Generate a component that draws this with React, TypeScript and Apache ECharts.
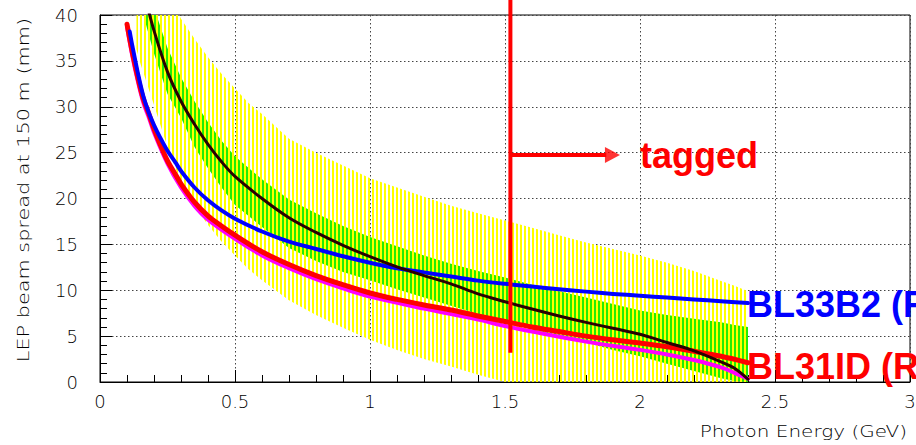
import React, { useEffect, useRef } from 'react';
import * as echarts from 'echarts';

// ---------- data (photon energy in GeV, spread in mm) ----------
const E_YEL = [0.135, 0.15, 0.17, 0.2, 0.25, 0.3, 0.35, 0.4, 0.45, 0.5, 0.55, 0.6, 0.7, 0.8, 0.9, 1.0, 1.1, 1.2, 1.3, 1.4, 1.5, 1.6, 1.7, 1.8, 1.9, 2.0, 2.1, 2.2, 2.3, 2.35, 2.4];
const YEL_HI = [56, 53, 50, 46.5, 42.5, 39.6, 37.4, 35.4, 33.6, 32.0, 30.4, 29.2, 26.5, 25.0, 23.6, 22.2, 21.2, 20.2, 19.2, 18.4, 17.6, 16.8, 16.0, 15.2, 14.5, 13.8, 13.0, 12.1, 11.0, 10.5, 9.9];
const YEL_LO = [36.3, 34.7, 32.9, 30.2, 25.6, 21.7, 19.2, 17.1, 15.3, 13.8, 12.3, 11.1, 8.9, 7.3, 5.9, 4.6, 3.5, 2.5, 1.7, 0.8, 0, 0, 0, 0, 0, 0, 0, 0, 0, 0, 0];

const E_BLK = [0.17, 0.2, 0.25, 0.3, 0.35, 0.4, 0.45, 0.5, 0.6, 0.7, 0.8, 0.9, 1.0, 1.1, 1.2, 1.3, 1.4, 1.5, 1.6, 1.7, 1.8, 1.9, 2.0, 2.1, 2.2, 2.3, 2.35, 2.4];
const BLK = [41.6, 38.3, 33.8, 30.6, 28.1, 25.9, 24.0, 22.4, 20.0, 17.9, 16.3, 14.9, 13.66, 12.55, 11.6, 10.7, 9.6, 8.75, 7.95, 7.2, 6.5, 5.85, 5.2, 4.3, 3.4, 2.2, 1.5, 0.3];
const GRN_HI = [44.0, 40.8, 36.4, 33.2, 30.6, 28.3, 26.3, 24.6, 22.1, 19.9, 18.4, 17.0, 15.8, 14.8, 13.8, 12.9, 12.1, 11.4, 10.6, 9.9, 9.2, 8.5, 7.8, 7.3, 6.9, 6.5, 6.2, 6.0];
const GRN_LO = [39.0, 35.8, 31.4, 28.8, 25.6, 23.3, 21.2, 19.3, 16.9, 14.6, 13.2, 12.0, 11.1, 10.1, 9.2, 8.3, 7.4, 6.6, 5.8, 5.0, 4.3, 3.5, 2.8, 2.0, 1.2, 0.4, 0.1, 0.0];

const E_BLU = [0.11, 0.12, 0.14, 0.16, 0.18, 0.2, 0.22, 0.25, 0.28, 0.3, 0.35, 0.4, 0.45, 0.5, 0.6, 0.7, 0.8, 0.9, 1.0, 1.1, 1.2, 1.3, 1.4, 1.5, 1.6, 1.7, 1.8, 1.9, 2.0, 2.1, 2.2, 2.3, 2.4];
const BLU = [38.2, 36.6, 33.7, 31.2, 29.4, 28.0, 26.8, 25.2, 23.9, 23.0, 21.2, 19.8, 18.7, 17.8, 16.4, 15.3, 14.5, 13.7, 13.0, 12.4, 11.95, 11.5, 11.05, 10.7, 10.4, 10.1, 9.85, 9.6, 9.4, 9.2, 9.0, 8.8, 8.6];

const E_RED = [0.1, 0.11, 0.12, 0.14, 0.16, 0.18, 0.2, 0.22, 0.25, 0.28, 0.3, 0.35, 0.4, 0.45, 0.5, 0.6, 0.7, 0.8, 0.9, 1.0, 1.1, 1.2, 1.3, 1.4, 1.5, 1.6, 1.7, 1.8, 1.9, 2.0, 2.1, 2.2, 2.3, 2.4];
const RED = [39.0, 37.4, 35.9, 33.2, 30.9, 29.3, 27.6, 26.1, 24.1, 22.6, 21.6, 19.6, 18.1, 17.0, 16.0, 14.2, 12.8, 11.6, 10.6, 9.7, 9.0, 8.4, 7.85, 7.2, 6.6, 6.0, 5.5, 5.0, 4.6, 4.25, 3.85, 3.35, 2.8, 2.1];

const E_MAG = [0.1, 0.12, 0.14, 0.16, 0.18, 0.2, 0.25, 0.3, 0.35, 0.4, 0.5, 0.6, 0.7, 0.8, 0.9, 1.0, 1.2, 1.4, 1.5, 1.6, 1.8, 2.0, 2.1, 2.2, 2.3, 2.35, 2.4];
const MAG = [38.7, 35.5, 32.8, 30.5, 28.9, 27.2, 23.8, 21.2, 19.2, 17.7, 15.6, 13.8, 12.4, 11.2, 10.2, 9.3, 8.0, 6.8, 6.1, 5.5, 4.4, 3.5, 3.0, 2.4, 1.6, 1.0, 0.35];

// tagged threshold annotation (data space)
const TAG_E = 1.52;
const TAG_Y = [3.2, 41.7];
const ARROW_Y = 24.74;
const ARROW_SHAFT_END = 1.875;
const ARROW_HEAD_E = 1.898;

const X_MIN = 0, X_MAX = 3, X_STEP = 0.5;
const Y_MIN = 0, Y_MAX = 40, Y_STEP = 5;

const LABEL_TAGGED = 'tagged';
const LABEL_BLUE = 'BL33B2 (R';
const LABEL_RED = 'BL31ID (R';
const X_NAME = 'Photon Energy (GeV)';
const Y_NAME = 'LEP beam spread at 150 m (mm)';

const THIN = '"DejaVu Sans", "Liberation Sans", sans-serif';
const BOLD = 'bold 36px "Liberation Sans", Arial, sans-serif';

function stripe(cols: string[]) {
  const c = document.createElement('canvas');
  c.width = cols.length;
  c.height = 4;
  const ctx = c.getContext('2d')!;
  cols.forEach((col, i) => {
    if (col) {
      ctx.fillStyle = col;
      ctx.fillRect(i, 0, 1, 4);
    }
  });
  return c;
}

function band(name: string, xs: number[], lo: number[], hi: number[], fill: any, z: number) {
  return {
    type: 'custom',
    name,
    z,
    silent: true,
    data: xs.map((x, i) => [x, lo[i], hi[i]]),
    encode: { x: 0, y: [1, 2] },
    renderItem: (params: any, api: any) => {
      if (params.dataIndex !== 0) return null;
      const top = xs.map((x, i) => api.coord([x, hi[i]]));
      const bot = xs.map((x, i) => api.coord([x, lo[i]])).reverse();
      const cs = params.coordSys;
      return {
        type: 'polygon',
        shape: { points: top.concat(bot) },
        style: { fill },
        clipPath: { type: 'rect', shape: { x: cs.x, y: cs.y, width: cs.width, height: cs.height } },
      };
    },
  };
}

function curve(name: string, xs: number[], ys: number[], color: string, width: number, z: number) {
  return {
    type: 'line',
    name,
    z,
    silent: true,
    data: xs.map((x, i) => [x, ys[i]]),
    symbol: 'none',
    showSymbol: false,
    smooth: 0.35,
    clip: true,
    lineStyle: { color, width, cap: 'round', join: 'round' },
    itemStyle: { color },
  };
}

export default function App() {
  const ref = useRef<HTMLDivElement>(null);
  useEffect(() => {
    document.body.style.margin = '0';
    const chart = echarts.init(ref.current!, null, { renderer: 'svg' });
    const yellowPat = { image: stripe(['#ffff00', '#ffff00', '', '']), repeat: 'repeat', imageWidth: 4, imageHeight: 4 };
    const greenPat = { image: stripe(['', '', '#22ee00', '#22ee00']), repeat: 'repeat', imageWidth: 4, imageHeight: 4 };
    const grid = { left: 100, right: 6, top: 15, bottom: 63, show: true, borderColor: '#000', borderWidth: 1, outerBoundsMode: 'none' };
    const axisLabel = { color: '#000', fontFamily: THIN, fontWeight: 200, fontSize: 18 };
    const splitLine = { show: true, lineStyle: { color: '#444', width: 1, type: [1.5, 2.5] } };
    chart.setOption({
      animation: false,
      backgroundColor: '#fff',
      grid,
      xAxis: {
        type: 'value', min: X_MIN, max: X_MAX, interval: X_STEP,
        axisLine: { show: true, onZero: false, lineStyle: { color: '#000', width: 1 } },
        axisTick: { show: true, inside: true, length: 12, lineStyle: { color: '#000' } },
        minorTick: { show: true, splitNumber: 5, length: 7, lineStyle: { color: '#000' } },
        axisLabel: { ...axisLabel, margin: 10 },
        splitLine,
      },
      yAxis: {
        type: 'value', min: Y_MIN, max: Y_MAX, interval: Y_STEP,
        axisLine: { show: true, onZero: false, lineStyle: { color: '#000', width: 1 } },
        axisTick: { show: true, inside: true, length: 12, lineStyle: { color: '#000' } },
        minorTick: { show: true, splitNumber: 5, length: 7, lineStyle: { color: '#000' } },
        axisLabel: { ...axisLabel, margin: 22 },
        splitLine,
      },
      series: [
        band('yellow band', E_YEL, YEL_LO, YEL_HI, yellowPat, 1),
        band('green band', E_BLK, GRN_LO, GRN_HI, greenPat, 2),
        curve('magenta', E_MAG, MAG, '#ff00ff', 4, 3),
        curve('BL31ID', E_RED, RED, '#ff0000', 5, 4),
        curve('BL33B2', E_BLU, BLU, '#0000ff', 4, 5),
        curve('central', E_BLK, BLK, '#2a0000', 3, 6),
        {
          type: 'line', name: 'tag line', z: 10, silent: true, clip: false, symbol: 'none',
          data: TAG_Y.map((y) => [TAG_E, y]),
          lineStyle: { color: '#ff0000', width: 4 },
        },
        {
          type: 'line', name: 'tag arrow', z: 10, silent: true, clip: false, symbol: 'none',
          data: [[TAG_E, ARROW_Y], [ARROW_SHAFT_END, ARROW_Y]],
          lineStyle: { color: '#ff0000', width: 4 },
        },
        {
          type: 'scatter', name: 'tag head', z: 10, silent: true, clip: false,
          data: [[ARROW_HEAD_E, ARROW_Y]],
          symbol: 'triangle', symbolSize: [16, 15], symbolRotate: -90,
          itemStyle: { color: '#ff0000' },
        },
      ],
      graphic: [
        { type: 'text', x: 640, y: 155.5, z: 20, style: { text: LABEL_TAGGED, font: BOLD, fill: '#ff0000', align: 'left', verticalAlign: 'middle' } },
        { type: 'text', x: 747, y: 304.5, z: 20, style: { text: LABEL_BLUE, font: BOLD, fill: '#0000ff', align: 'left', verticalAlign: 'middle' } },
        { type: 'text', x: 747, y: 366.5, z: 20, style: { text: LABEL_RED, font: BOLD, fill: '#ff0000', align: 'left', verticalAlign: 'middle' } },
        { type: 'text', x: 907, y: 431, scaleX: 1.25, z: 20, style: { text: X_NAME, font: '200 16px ' + THIN, fill: '#000', align: 'right', verticalAlign: 'middle' } },
        { type: 'text', x: 23, y: 190, rotation: Math.PI / 2, scaleX: 1.3, z: 20, style: { text: Y_NAME, font: '200 16px ' + THIN, fill: '#000', align: 'center', verticalAlign: 'middle' } },
      ],
    });
    return () => chart.dispose();
  }, []);
  return <div ref={ref} style={{ width: 916, height: 445 }} />;
}
